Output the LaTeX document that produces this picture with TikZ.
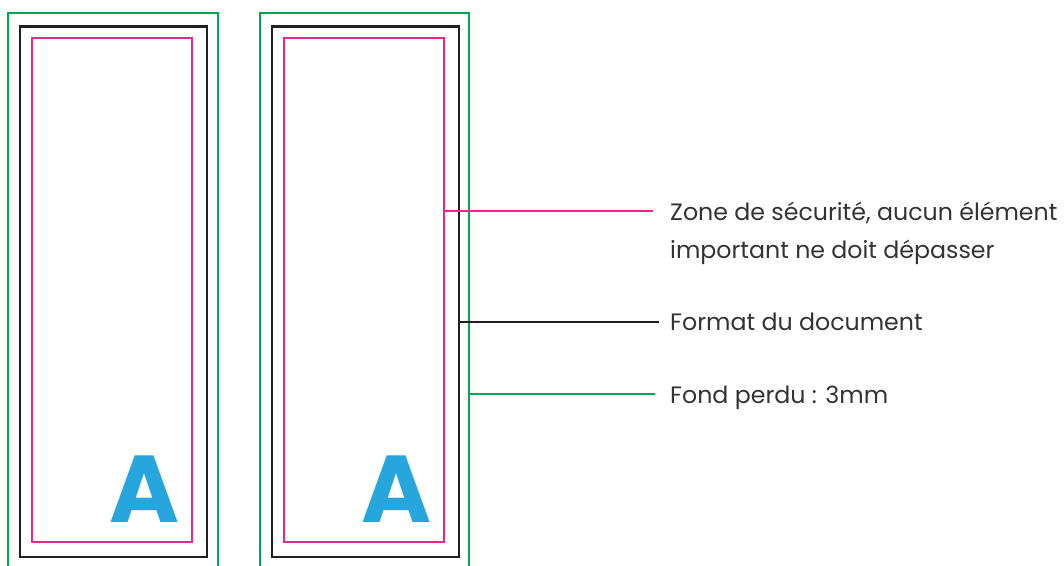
\documentclass[tikz,border=0pt]{standalone}
\usepackage{fontspec}
\setmainfont{Poppins}
\definecolor{bleedgreen}{HTML}{00A651}
\definecolor{safepink}{HTML}{EC268F}
\definecolor{trimblack}{HTML}{231F20}
\definecolor{letterblue}{HTML}{27A6DE}
\definecolor{txtgray}{HTML}{333333}
\begin{document}
\begin{tikzpicture}[x=1pt,y=-1pt,
  bleed/.style={draw=bleedgreen,line width=2pt},
  trim/.style={draw=trimblack,line width=2.4pt},
  safe/.style={draw=safepink,line width=2pt},
  letter/.style={text=letterblue,font=\fontsize{95}{95}\selectfont\bfseries,inner sep=0pt,anchor=base},
  label/.style={text=txtgray,font=\fontsize{23.7}{38}\selectfont,anchor=base west,inner sep=0pt}]
\useasboundingbox (0,0) rectangle (1064,565);
\clip (0,0) rectangle (1064,565);
% left panel
\draw[bleed] (8,13) rectangle (218,600);
\draw[trim] (20,26.5) rectangle (207,557);
\draw[safe] (32,38) rectangle (192,542);
\node[letter] (aleft) at (145,522) {A};
% right panel
\draw[bleed] (260,13) rectangle (469,600);
\draw[trim] (272,26.5) rectangle (459,557);
\draw[safe] (284,38) rectangle (444,542);
\node[letter] (aright) at (397,522) {A};
% labels
\node[label] (tsafe) at (670,220) {Zone de sécurité, aucun élément};
\node[label] (tsafeb) at (670,258) {important ne doit dépasser};
\node[label] (ttrim) at (670,330) {Format du document};
\node[label] (tbleed) at (670,403) {Fond perdu : 3mm};
\coordinate (psafe) at (444,211);
\coordinate (ptrim) at (459,322);
\coordinate (pbleed) at (469,394);
\coordinate (esafe) at (653,211);
\coordinate (etrim) at (659,322);
\coordinate (ebleed) at (655,394);
\draw[safe] (psafe) -- (esafe);
\draw[trim,line width=2.2pt] (ptrim) -- (etrim);
\draw[bleed] (pbleed) -- (ebleed);
\end{tikzpicture}
\end{document}
